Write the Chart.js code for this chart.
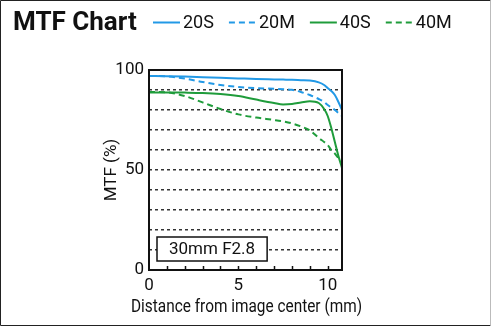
<!DOCTYPE html>
<html>
<head>
<meta charset="utf-8">
<script src="https://cdn.jsdelivr.net/npm/chart.js@4.4.0/dist/chart.umd.min.js"></script>
<style>
  html, body { margin: 0; padding: 0; background: #fff; }
  #wrap { position: relative; width: 492px; height: 326px; }
  canvas { display: block; }
</style>
</head>
<body>
<div id="wrap"><canvas id="c" width="492" height="326"></canvas></div>
<script>
// ---- Data ----
const chartTitle = "MTF Chart";
const lensLabel = "30mm F2.8";
const xAxisTitle = "Distance from image center (mm)";
const yAxisTitle = "MTF (%)";
const distances = [0, 1, 2, 3, 4, 5, 6, 7, 7.5, 8, 8.5, 9, 9.5, 9.8, 10, 10.2, 10.4, 10.6, 10.8];
const mtf20S = [97, 96.9, 96.7, 96.4, 96.1, 95.8, 95.5, 95.3, 95.2, 95.1, 94.9, 94.7, 93.8, 92.5, 91, 89.5, 87.5, 84, 80];
const mtf20M = [97, 96.8, 95.7, 94, 92.5, 91.5, 90.9, 90.6, 90.4, 90.1, 89, 87.5, 85.5, 84, 82.5, 81.2, 80, 78.5, 77];
const mtf40S = [88.8, 88.8, 88.7, 88.5, 88, 87, 85.2, 83.5, 82.8, 83, 83.7, 84.4, 83.5, 80.5, 77, 71, 64, 57, 51];
const mtf40M = [89, 88.8, 87, 83.8, 80.5, 77.8, 76.2, 75, 74.3, 73.3, 71.8, 69.8, 66, 64, 62.5, 60, 58.2, 56, 54];
const seriesNames = ["20S", "20M", "40S", "40M"];
const yTickLabels = [0, 50, 100];
const xTickLabels = [0, 5, 10];
const xMinorTicks = [1, 2, 3, 4, 5, 6, 7, 8, 9, 10];

const BLUE = "#2299e6";
const GREEN = "#1f9c3b";
const FONT = "Roboto, 'DejaVu Sans', sans-serif";

function pts(ys) { return distances.map((x, i) => ({ x: x, y: ys[i] })); }

const datasets = [
  { label: seriesNames[0], data: pts(mtf20S), borderColor: BLUE, borderDash: [] },
  { label: seriesNames[1], data: pts(mtf20M), borderColor: BLUE, borderDash: [6, 4] },
  { label: seriesNames[2], data: pts(mtf40S), borderColor: GREEN, borderDash: [] },
  { label: seriesNames[3], data: pts(mtf40M), borderColor: GREEN, borderDash: [6, 4] }
].map(d => Object.assign(d, {
  borderWidth: 2, pointRadius: 0, fill: false, cubicInterpolationMode: "monotone", tension: 0.4
}));

const decor = {
  id: "decor",
  beforeDraw(chart) {
    const ctx = chart.ctx;
    ctx.save();
    ctx.fillStyle = "#fff";
    ctx.fillRect(0, 0, chart.width, chart.height);
    ctx.restore();
  },
  afterDatasetsDraw(chart) {
    const ctx = chart.ctx;
    const a = chart.chartArea;
    const xs = chart.scales.x;
    ctx.save();
    // plot frame
    ctx.strokeStyle = "#111";
    ctx.lineWidth = 2;
    ctx.strokeRect(a.left, a.top, a.right - a.left, a.bottom - a.top);
    // minor ticks inside bottom
    ctx.lineWidth = 1.5;
    ctx.beginPath();
    xMinorTicks.forEach(v => {
      const px = Math.round(xs.getPixelForValue(v)) + 0.5;
      ctx.moveTo(px, a.bottom);
      ctx.lineTo(px, a.bottom - 4);
    });
    ctx.stroke();
    // lens label box
    ctx.font = "17px " + FONT;
    const tw = ctx.measureText(lensLabel).width;
    const bx = a.left + 8, bh = 24, bw = tw + 24, by = a.bottom - 9 - bh;
    ctx.fillStyle = "#fff";
    ctx.fillRect(bx, by, bw, bh);
    ctx.lineWidth = 1.5;
    ctx.strokeStyle = "#111";
    ctx.strokeRect(bx, by, bw, bh);
    ctx.fillStyle = "#111";
    ctx.textAlign = "center";
    ctx.textBaseline = "middle";
    ctx.fillText(lensLabel, bx + bw / 2, by + bh / 2 + 1);
    // x axis title
    ctx.font = "19px " + FONT;
    ctx.textBaseline = "alphabetic";
    ctx.fillText(xAxisTitle, (a.left + a.right) / 2 + 1, a.bottom + 42, 231);
    ctx.restore();
  },
  afterDraw(chart) {
    const ctx = chart.ctx;
    ctx.save();
    // title
    ctx.fillStyle = "#111";
    ctx.font = "bold 26px " + FONT;
    ctx.textBaseline = "middle";
    ctx.textAlign = "left";
    ctx.fillText(chartTitle, 13, 23);
    // legend
    ctx.font = "18px " + FONT;
    let x = 153;
    const y = 22.5;
    chart.data.datasets.forEach(ds => {
      ctx.strokeStyle = ds.borderColor;
      ctx.lineWidth = 2;
      ctx.setLineDash(ds.borderDash);
      ctx.beginPath();
      ctx.moveTo(x, y);
      ctx.lineTo(x + 27, y);
      ctx.stroke();
      ctx.setLineDash([]);
      ctx.fillStyle = "#111";
      ctx.fillText(ds.label, x + 30, y + 1);
      x += 30 + ctx.measureText(ds.label).width + 15;
    });
    // outer border
    ctx.strokeStyle = "#222";
    ctx.lineWidth = 1;
    ctx.beginPath();
    ctx.moveTo(490.5, 0.5); ctx.lineTo(0.5, 0.5); ctx.lineTo(0.5, 325.5); ctx.lineTo(490.5, 325.5);
    ctx.stroke();
    ctx.strokeStyle = "#bbb";
    ctx.beginPath();
    ctx.moveTo(490.5, 0.5); ctx.lineTo(490.5, 325.5);
    ctx.stroke();
    ctx.restore();
  }
};

new Chart(document.getElementById("c"), {
  type: "line",
  data: { datasets: datasets },
  plugins: [decor],
  options: {
    responsive: false,
    animation: false,
    layout: { padding: { left: 102, top: 70, right: 150, bottom: 0 } },
    plugins: { legend: { display: false }, title: { display: false }, tooltip: { enabled: false } },
    scales: {
      x: {
        type: "linear", min: 0, max: 10.8,
        grid: { display: false, drawTicks: false },
        border: { display: false },
        ticks: {
          stepSize: 5, includeBounds: false, padding: 6, color: "#111", maxRotation: 0, autoSkip: false,
          font: { family: FONT, size: 17 },
          callback: v => xTickLabels.includes(v) ? String(v) : ""
        },
        title: { display: false },
        afterFit: s => { s.height = 56; }
      },
      y: {
        min: 0, max: 100,
        grid: {
          color: ctx => (ctx.tick && (ctx.tick.value === 0 || ctx.tick.value === 100)) ? "rgba(0,0,0,0)" : "#333",
          lineWidth: 1.5, drawTicks: false
        },
        border: { display: false, dash: [3, 3] },
        ticks: {
          stepSize: 10, padding: 5, color: "#111", autoSkip: false,
          font: { family: FONT, size: 17 },
          callback: v => yTickLabels.includes(v) ? String(v) : ""
        },
        title: { display: true, text: yAxisTitle, color: "#111",
                 font: { family: FONT, size: 17 }, padding: { top: 0, bottom: 2 } },
        afterFit: s => { s.width = 47; }
      }
    }
  }
});
</script>
</body>
</html>
